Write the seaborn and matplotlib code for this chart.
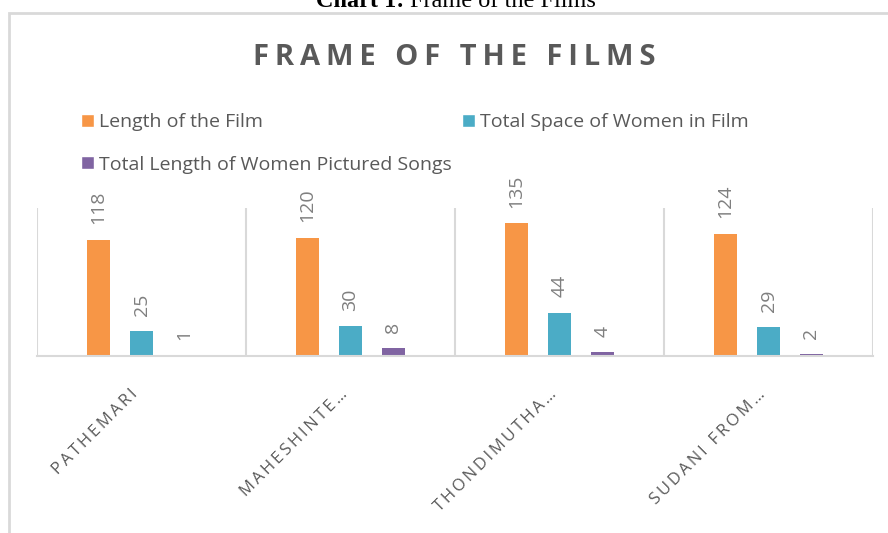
import matplotlib
matplotlib.use("Agg")
import matplotlib.pyplot as plt
import seaborn as sns
import pandas as pd
from matplotlib.patches import Rectangle, Patch

# ---- data ----
films = ["PATHEMARI", "MAHESHINTE…", "THONDIMUTHA…", "SUDANI FROM…"]
series = ["Length of the Film", "Total Space of Women in Film",
          "Total Length of Women Pictured Songs"]
length_of_film = [118, 120, 135, 124]
space_of_women = [25, 30, 44, 29]
women_songs = [1, 8, 4, 2]
colors = ["#F79646", "#4BACC6", "#8064A2"]
title = "FRAME OF THE FILMS"
caption_bold = "Chart 1:"
caption_rest = "Frame of the Films"

df = pd.DataFrame({
    "film": films * 3,
    "series": [series[0]] * 4 + [series[1]] * 4 + [series[2]] * 4,
    "value": length_of_film + space_of_women + women_songs,
})


def track(s, sp="\u2009"):
    return sp.join(s)


sns.set_theme(style="white")
plt.rcParams["font.family"] = ["Open Sans", "DejaVu Sans"]

W, H = 888, 533
fig = plt.figure(figsize=(W / 100, H / 100), dpi=100)
ax = fig.add_axes([37 / W, 1 - 356 / H, (873 - 37) / W, (356 - 208) / H])

sns.barplot(data=df, x="film", y="value", hue="series", order=films,
            hue_order=series, palette=colors, width=0.617, gap=0.466,
            saturation=1, errorbar=None, linewidth=0, ax=ax)
if ax.get_legend() is not None:
    ax.get_legend().remove()

for cont in ax.containers:
    ax.bar_label(cont, labels=[f"{v:.0f}" for v in cont.datavalues],
                 padding=11, rotation=90, color="#7f7f7f", fontsize=14)

ax.set_ylim(0, 150)
ax.set_xlim(-0.5, 3.5)
ax.set_yticks([])
ax.set_xlabel("")
ax.set_ylabel("")
for s in ["top", "left", "right"]:
    ax.spines[s].set_visible(False)
ax.spines["bottom"].set_color("#d9d9d9")
ax.spines["bottom"].set_linewidth(1.5)

ax.set_xticks([-0.5, 0.5, 1.5, 2.5, 3.5], minor=True)
ax.grid(which="minor", axis="x", color="#d9d9d9", lw=1.5)
ax.set_xticks(range(len(films)))
ax.set_xticklabels([track(f, "\u2009") for f in films], rotation=45,
                   ha="right", color="#595959", fontsize=12)
ax.tick_params(axis="x", which="both", length=0, pad=22)

handles = [Patch(facecolor=c, label=s) for c, s in zip(colors, series)]
fig.legend(handles=[handles[0], handles[2], handles[1]], ncol=2,
           loc="upper left", bbox_to_anchor=(81 / W, 1 - 113 / H),
           frameon=False, fontsize=14, handlelength=0.65, handleheight=0.65,
           handletextpad=0.3, columnspacing=0.5, labelspacing=1.26,
           borderpad=0, borderaxespad=0, labelcolor="#595959")

fig.text(454 / W, 1 - 65 / H, track(title, "\u2009"), ha="center",
         va="baseline", fontsize=21, fontweight="bold", color="#595959")

# caption (cut at the top edge as in the reference)
cap_y = 1 - 7 / H
t1 = fig.text(0, cap_y, caption_bold + " ", ha="left", va="baseline",
              fontsize=17.5, fontweight="bold", family="Liberation Serif",
              color="black")
t2 = fig.text(0, cap_y, caption_rest, ha="left", va="baseline",
              fontsize=17.5, family="Liberation Serif", color="black")
fig.canvas.draw()
r = fig.canvas.get_renderer()
w1 = t1.get_window_extent(r).width
w2 = t2.get_window_extent(r).width
x0 = 456 - (w1 + w2) / 2
t1.set_x(x0 / W)
t2.set_x((x0 + w1) / W)

fig.add_artist(Rectangle((9 / W, -0.5), 2, 0.5 + 1 - 13 / H,
                         transform=fig.transFigure, fill=False,
                         edgecolor="#d9d9d9", lw=2))

fig.savefig("out.png", dpi=100)
